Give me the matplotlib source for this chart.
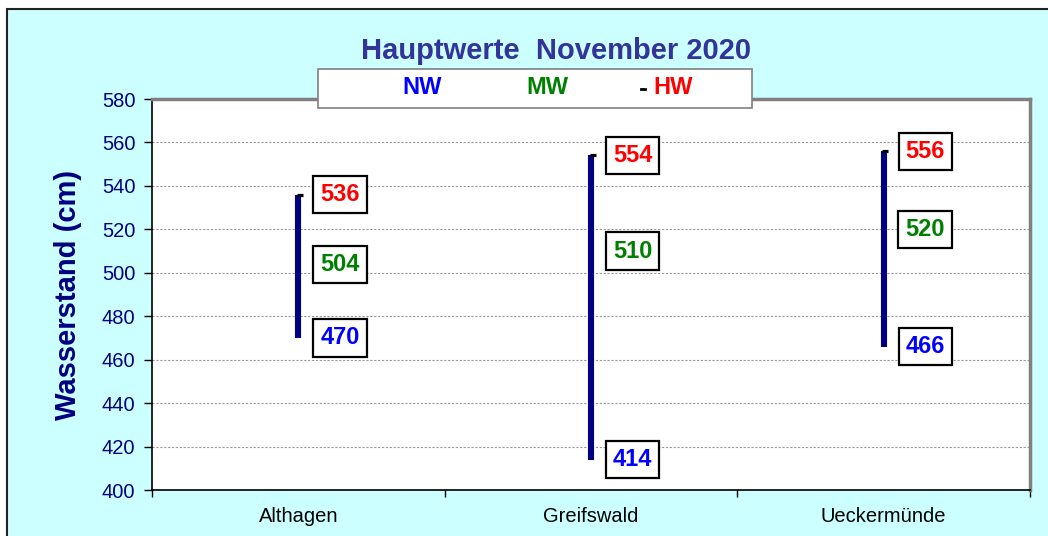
import matplotlib
matplotlib.use("Agg")
import matplotlib.pyplot as plt
import matplotlib.transforms as mtransforms
from matplotlib.patches import Rectangle
import numpy as np

plt.rcParams["font.family"] = ["Liberation Sans", "DejaVu Sans"]

stations = ["Althagen", "Greifswald", "Ueckermünde"]
nw = [470, 414, 466]
mw = [504, 510, 520]
hw = [536, 554, 556]
series_names = ["NW", "MW", "HW"]
series_colors = ["#0000FF", "#008000", "#FF0000"]

title = "Hauptwerte  November 2020"
ylabel = "Wasserstand (cm)"
yticks = np.arange(400, 581, 20)

BG = "#CCFFFF"
NAVY = "#000080"
TITLE = "#333399"

fig = plt.figure(figsize=(10.48, 5.36), dpi=100, facecolor="white")
W, H = 1048, 536

# outer frame
fig.patches.append(Rectangle((7 / W, -0.05), 1.1, 1 - 9 / H + 0.05, transform=fig.transFigure,
                             facecolor=BG, edgecolor="#222222", linewidth=1.5, zorder=-5))

ax = fig.add_axes([152 / W, 1 - 490 / H, (1030 - 152) / W, (490 - 99) / H])
ax.set_facecolor("white")
x = np.arange(len(stations))

ax.vlines(x, nw, hw, color=NAVY, linewidth=4.4, zorder=3)
shift = mtransforms.offset_copy(ax.transData, fig=fig, x=1.5, y=0, units="dots")
ax.plot(x, hw, linestyle="none", marker="_", markersize=4.5, markeredgewidth=2.3,
        color="black", transform=shift, zorder=4)

for vals, col in zip([hw, mw, nw], [series_colors[2], series_colors[1], series_colors[0]]):
    for xi, v in zip(x, vals):
        ax.annotate(str(v), (xi, v), xytext=(30, 0), textcoords="offset points",
                    ha="center", va="center", fontsize=17, fontweight="bold", color=col,
                    bbox=dict(boxstyle="square,pad=0.3", facecolor="white",
                              edgecolor="black", linewidth=1.6), zorder=5)

ax.set_xlim(-0.5, len(stations) - 0.5)
ax.set_ylim(400, 580)
ax.set_yticks(yticks)
ax.set_xticks(x)
ax.set_xticklabels(stations, fontsize=14.5, color="black")
ax.set_xticks(np.arange(-0.5, len(stations)), minor=True)
ax.tick_params(axis="x", which="major", length=0, pad=12)
ax.tick_params(axis="x", which="minor", length=5, width=1, direction="out")
ax.tick_params(axis="y", labelsize=14.5, labelcolor=NAVY, length=6, width=1, pad=6)

ax.grid(axis="y", color="#999999", linestyle=(0, (2, 1.5)), linewidth=0.8)
ax.set_axisbelow(True)
for s in ["top", "right"]:
    ax.spines[s].set_color("#808080")
    ax.spines[s].set_linewidth(2.5)
for s in ["left", "bottom"]:
    ax.spines[s].set_color("black")
    ax.spines[s].set_linewidth(1.2)

ax.set_ylabel(ylabel, fontsize=21, fontweight="bold", color=NAVY, labelpad=14)

fig.text(556 / W, 1 - 51 / H, title, ha="center", va="center", fontsize=21,
         fontweight="bold", color=TITLE)

# legend box
fig.patches.append(Rectangle((318 / W, 1 - 108 / H), (752 - 318) / W, 39 / H,
                             transform=fig.transFigure, facecolor="white",
                             edgecolor="#808080", linewidth=1.2, zorder=6))
leg_x = [422, 547, 673]
for name, col, lx in zip(series_names, series_colors, leg_x):
    fig.text(lx / W, 1 - 88 / H, name, ha="center", va="center", fontsize=17,
             fontweight="bold", color=col, zorder=7)
fig.lines.append(plt.Line2D([641 / W, 645 / W], [1 - 89 / H, 1 - 89 / H],
                            transform=fig.transFigure, color="black", linewidth=2.0, zorder=7))

fig.savefig("out.png", dpi=100, facecolor="white")
